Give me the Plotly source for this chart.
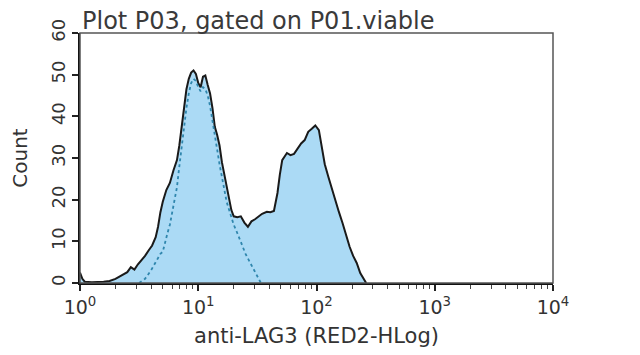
import plotly.graph_objects as go

# ---- data (x given as log10 of fluorescence intensity) ----
sample_log = [0.00, 0.02, 0.04, 0.10, 0.20, 0.25, 0.30, 0.35, 0.40, 0.43, 0.46, 0.49,
              0.52, 0.55, 0.58, 0.61, 0.64, 0.66, 0.68, 0.70, 0.73, 0.76, 0.79, 0.82,
              0.84, 0.86, 0.88, 0.90, 0.92, 0.94, 0.96, 0.98, 1.00, 1.02, 1.04, 1.06,
              1.08, 1.10, 1.12, 1.14, 1.16, 1.18, 1.20, 1.22, 1.24, 1.26, 1.28, 1.30,
              1.33, 1.36, 1.39, 1.42, 1.45, 1.48, 1.51, 1.54, 1.58, 1.61, 1.64, 1.67,
              1.69, 1.71, 1.75, 1.78, 1.81, 1.84, 1.87, 1.90, 1.93, 1.96, 1.99, 2.02,
              2.04, 2.07, 2.10, 2.13, 2.16, 2.19, 2.22, 2.25, 2.28, 2.31, 2.34, 2.37,
              2.40, 2.42]
sample_count = [2.5, 1.0, 0.3, 0.2, 0.3, 0.5, 1.0, 1.8, 2.6, 3.8, 3.2, 4.5,
                5.5, 6.5, 7.8, 9.0, 11.0, 13.5, 17.0, 19.5, 22.3, 24.0, 27.0, 29.5,
                33.0, 37.5, 42.5, 46.5, 49.0, 50.5, 51.0, 50.2, 48.0, 47.0, 49.5, 49.8,
                47.5, 45.5, 42.0, 37.5, 35.5, 33.0, 29.0, 26.0, 23.0, 20.0, 17.5, 16.0,
                15.8, 16.0, 14.5, 13.5, 14.8, 15.3, 16.0, 16.6, 17.1, 17.0, 17.3, 21.6,
                26.0, 29.5, 31.2, 30.7, 31.0, 32.4, 33.5, 34.3, 36.3, 37.0, 37.8, 36.7,
                33.0, 28.5, 25.5, 22.5, 19.9, 17.0, 14.4, 11.5, 8.7, 6.5, 4.8, 2.4,
                0.8, 0.0]

control_log = [0.50, 0.55, 0.60, 0.65, 0.68, 0.70, 0.72, 0.74, 0.76, 0.78, 0.80, 0.82,
               0.84, 0.86, 0.88, 0.90, 0.92, 0.94, 0.96, 0.98, 1.00, 1.02, 1.04, 1.06,
               1.08, 1.10, 1.12, 1.14, 1.16, 1.18, 1.20, 1.22, 1.24, 1.27, 1.30, 1.33,
               1.36, 1.40, 1.44, 1.48, 1.51, 1.53]
control_count = [0.0, 1.0, 3.0, 5.5, 7.0, 7.5, 10.0, 12.0, 14.0, 17.0, 20.0, 23.0,
                 28.0, 33.0, 38.0, 42.0, 45.5, 48.0, 49.0, 48.5, 47.0, 46.0, 47.0, 46.5,
                 45.0, 42.5, 39.0, 35.0, 32.0, 28.5, 25.5, 22.5, 19.5, 16.7, 14.0, 12.0,
                 10.0, 7.0, 4.8, 2.5, 1.0, 0.0]

x_tick_vals = [1, 10, 100, 1000, 10000]
x_tick_text = ["10<sup>0</sup>", "10<sup>1</sup>", "10<sup>2</sup>", "10<sup>3</sup>", "10<sup>4</sup>"]
y_tick_vals = [0, 10, 20, 30, 40, 50, 60]

title_text = "Plot P03, gated on P01.viable"
x_title = "anti-LAG3 (RED2-HLog)"
y_title = "Count"

sample_x = [10 ** v for v in sample_log]
control_x = [10 ** v for v in control_log]
minor_vals = [m * 10 ** d for d in range(4) for m in range(2, 10)]

FONT = "DejaVu Sans"
TXT = "#333333"

fig = go.Figure()
fig.add_trace(go.Scatter(
    x=sample_x, y=sample_count, mode="lines", fill="tozeroy",
    fillcolor="#abdaf5", line=dict(color="#1a1a1a", width=2), hoverinfo="skip"))
fig.add_trace(go.Scatter(
    x=control_x, y=control_count, mode="lines",
    line=dict(color="#2f86ad", width=1.8, dash="dot"), hoverinfo="skip"))

fig.update_layout(
    width=640, height=355,
    margin=dict(l=72, r=95, t=25, b=80, autoexpand=False),
    paper_bgcolor="white", plot_bgcolor="white",
    showlegend=False,
    font=dict(family=FONT, color=TXT),
)
fig.update_xaxes(
    type="log", range=[0, 4], showgrid=False, zeroline=False, automargin=False,
    showline=True, linecolor="#111111", linewidth=2,
    ticks="outside", ticklen=6, tickwidth=1.5, tickcolor="#222",
    tickvals=x_tick_vals, ticktext=x_tick_text,
    tickfont=dict(size=19, color=TXT, family=FONT),
    minor=dict(ticks="outside", ticklen=4, tickwidth=1, tickcolor="#444",
               tickvals=minor_vals, showgrid=False),
    title=dict(text=x_title, font=dict(size=21, color=TXT, family=FONT), standoff=12),
)
fig.update_yaxes(
    range=[0, 60], showgrid=False, zeroline=False, automargin=False,
    showline=True, linecolor="#111111", linewidth=2,
    ticks="outside", ticklen=6, tickwidth=1.5, tickcolor="#222",
    tickvals=y_tick_vals, tickangle=-90,
    tickfont=dict(size=18, color=TXT, family=FONT),
    title=dict(text=y_title, font=dict(size=20, color=TXT, family=FONT), standoff=16),
)
# top and right frame
fig.add_shape(type="rect", xref="paper", yref="paper", x0=0, y0=0, x1=1, y1=1,
              line=dict(color="#555555", width=1.5), layer="above")
fig.add_annotation(text=title_text, xref="paper", yref="paper", x=0, y=1,
                   xanchor="left", yanchor="bottom", yshift=-4, showarrow=False,
                   font=dict(size=24, color="#3a3a3a", family=FONT))

fig.write_html("out.html")
